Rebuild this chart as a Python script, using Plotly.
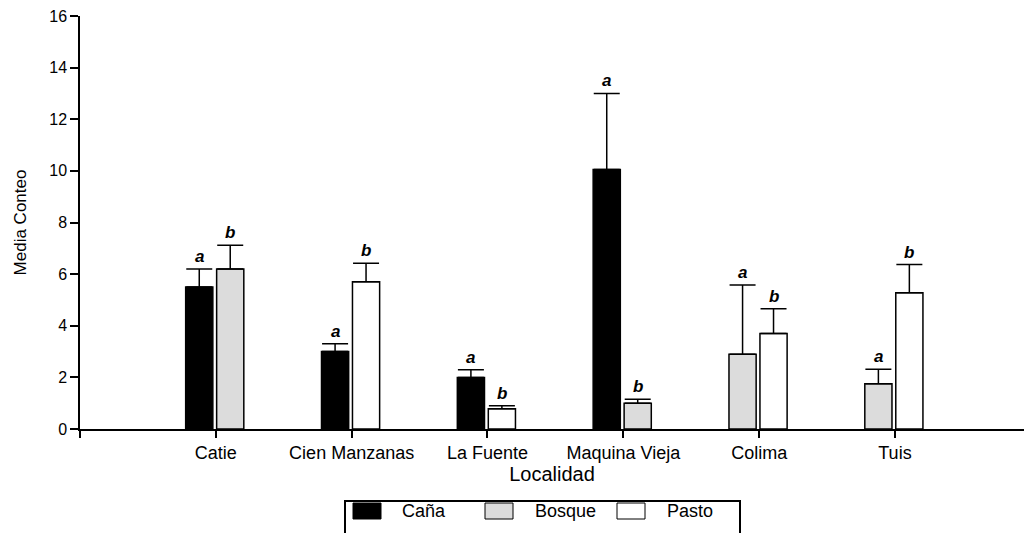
import plotly.graph_objects as go

# Mean counts per locality and land use, with the upper error limit of each bar
localidades = ["Catie", "Cien Manzanas", "La Fuente", "Maquina Vieja", "Colima", "Tuis"]

cana_idx = [0, 1, 2, 3]
cana_media = [5.5, 3.0, 2.0, 10.05]
cana_error = [0.7, 0.3, 0.3, 2.95]
cana_letra = ["a", "a", "a", "a"]

bosque_idx = [0, 3, 4, 5]
bosque_media = [6.2, 1.0, 2.9, 1.75]
bosque_error = [0.92, 0.15, 2.68, 0.56]
bosque_letra = ["b", "b", "a", "a"]

pasto_idx = [1, 2, 4, 5]
pasto_media = [5.7, 0.78, 3.7, 5.28]
pasto_error = [0.72, 0.12, 0.96, 1.09]
pasto_letra = ["b", "b", "b", "b"]

# first bar of a pair sits left of the tick, second bar to the right
slot_cana = [-1, -1, -1, -1]
slot_bosque = [1, 1, -1, -1]
slot_pasto = [1, 1, 1, 1]

ymax_axis = 16
yticks = [0, 2, 4, 6, 8, 10, 12, 14, 16]

FONT = "Liberation Sans, Arial, sans-serif"
W, H = 1024, 533
ML, MR, MT, MB = 80, 0, 16, 104
BAR_W = 0.2
OFF_L, OFF_R = -0.122, 0.106


def pos(idx, slot):
    return [i + (OFF_L if s < 0 else OFF_R) for i, s in zip(idx, slot)]


fig = go.Figure()

series = [
    ("Caña", cana_idx, cana_media, cana_error, cana_letra, slot_cana, "#000000"),
    ("Bosque", bosque_idx, bosque_media, bosque_error, bosque_letra, slot_bosque, "#dcdcdc"),
    ("Pasto", pasto_idx, pasto_media, pasto_error, pasto_letra, slot_pasto, "#ffffff"),
]

annotations = []
for name, idx, media, err, letras, slot, color in series:
    xs = pos(idx, slot)
    fig.add_trace(go.Bar(
        name=name,
        x=xs,
        y=media,
        width=BAR_W,
        marker=dict(color=color, line=dict(color="#000000", width=1.5)),
        error_y=dict(type="data", array=err, arrayminus=[0] * len(err),
                     symmetric=False, color="#000000", thickness=1.5, width=13),
        showlegend=False,
    ))
    for x, m, e, t in zip(xs, media, err, letras):
        annotations.append(dict(
            x=x, y=m + e, xref="x", yref="y", text="<b><i>%s</i></b>" % t,
            showarrow=False, yanchor="bottom", yshift=1,
            font=dict(family=FONT, size=17, color="#000000"),
        ))

# legend box drawn in pixel space below the plot
pw, ph = W - ML - MR, H - MT - MB


def px(x):
    return (x - ML) / pw


def py(y):
    return (H - MB - y) / ph


shapes = [dict(type="rect", xref="paper", yref="paper",
               x0=px(345), x1=px(740), y0=py(536), y1=py(501),
               line=dict(color="#000000", width=2), fillcolor="rgba(0,0,0,0)")]
legend_items = [("Caña", "#000000", 353, 400),
                ("Bosque", "#dcdcdc", 485, 533),
                ("Pasto", "#ffffff", 617, 665)]
for label, color, sx, tx in legend_items:
    shapes.append(dict(type="rect", xref="paper", yref="paper",
                       x0=px(sx), x1=px(sx + 28), y0=py(519), y1=py(503),
                       line=dict(color="#000000", width=1), fillcolor=color))
    annotations.append(dict(x=px(tx), y=py(511), xref="paper", yref="paper",
                            text=label, showarrow=False, xanchor="left", yanchor="middle",
                            font=dict(family=FONT, size=18, color="#000000")))

fig.update_layout(
    width=W, height=H,
    margin=dict(l=ML, r=MR, t=MT, b=MB),
    paper_bgcolor="#ffffff", plot_bgcolor="#ffffff",
    barmode="overlay",
    font=dict(family=FONT, color="#000000"),
    annotations=annotations,
    shapes=shapes,
)

fig.update_xaxes(
    range=[-1, 5.95],
    tickmode="array",
    tickvals=[-1] + list(range(len(localidades))),
    ticktext=[""] + localidades,
    ticks="outside", ticklen=7, tickwidth=1.5, tickcolor="#000000",
    showline=True, linecolor="#000000", linewidth=1.5,
    showgrid=False, zeroline=False,
    tickfont=dict(family=FONT, size=18, color="#000000"),
    title=dict(text="Localidad", font=dict(family=FONT, size=20, color="#000000"), standoff=3),
)
fig.update_yaxes(
    range=[0, ymax_axis],
    tickmode="array", tickvals=yticks,
    ticks="outside", ticklen=8, tickwidth=1.5, tickcolor="#000000",
    showline=True, linecolor="#000000", linewidth=1.5,
    showgrid=False, zeroline=False,
    tickfont=dict(family=FONT, size=16, color="#000000"),
    title=dict(text="Media Conteo", font=dict(family=FONT, size=17, color="#000000"), standoff=18),
)

fig.write_html("out.html")
